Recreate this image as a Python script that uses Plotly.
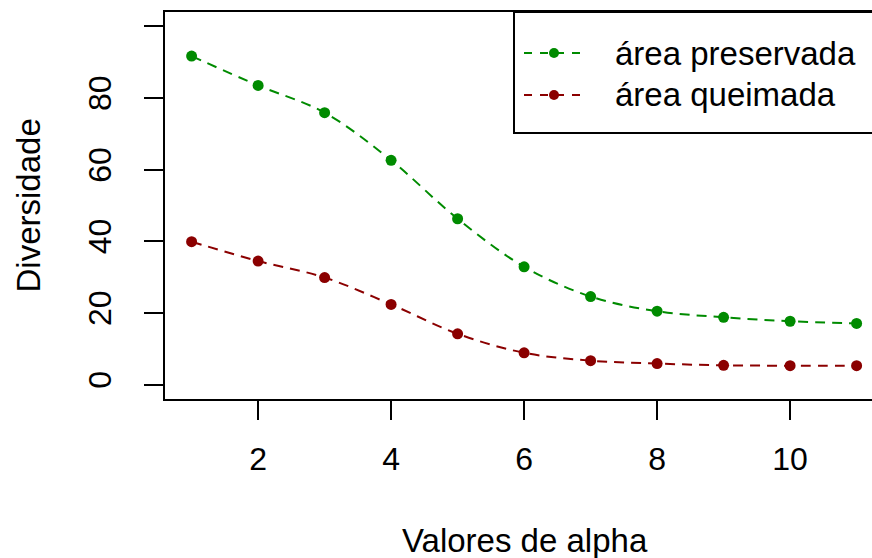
import plotly.graph_objects as go

# Valores de alpha (ordem da diversidade de Hill)
alpha = [1, 2, 3, 4, 5, 6, 7, 8, 9, 10, 11]

# Diversidade estimada em cada área
preservada = [91.7, 83.5, 75.9, 62.6, 46.3, 32.9, 24.6, 20.5, 18.8, 17.7, 17.1]
queimada = [39.9, 34.5, 29.9, 22.4, 14.2, 8.9, 6.7, 5.9, 5.4, 5.3, 5.3]

series_names = ["área preservada", "área queimada"]
series_colors = ["#008B00", "#8B0000"]

x_ticks = [2, 4, 6, 8, 10]
y_ticks = [0, 20, 40, 60, 80, 100]
y_tick_text = ["0", "20", "40", "60", "80", ""]

FONT = "Liberation Sans, Arial, sans-serif"
FS = 33
FS_TICK = 32

fig = go.Figure()

for vals, name, col in zip([preservada, queimada], series_names, series_colors):
    fig.add_trace(go.Scatter(
        x=alpha, y=vals, name=name, mode="lines+markers",
        line=dict(color=col, width=2, dash="10px,7px", shape="spline", smoothing=1),
        marker=dict(color=col, size=11, line=dict(width=0)),
        showlegend=False,
    ))

# plot region in pixels
L, T, B, W, H = 165, 12, 399, 872, 558
PW, PH = W - L, B - T


def px(xp):
    return (xp - L) / PW


def py(yp):
    return (B - yp) / PH


shapes = []
annotations = []

# legend box (open to the right, like the plot frame)
shapes.append(dict(type="rect", xref="paper", yref="paper",
                   x0=px(514), x1=px(900), y0=py(133), y1=py(T),
                   line=dict(color="black", width=2), fillcolor="white", layer="below"))

for i, (name, col) in enumerate(zip(series_names, series_colors)):
    yrow = 53 + i * 42
    shapes.append(dict(type="line", xref="paper", yref="paper",
                       x0=px(524), x1=px(585), y0=py(yrow), y1=py(yrow),
                       line=dict(color=col, width=2, dash="8px,8px")))
    shapes.append(dict(type="circle", xref="paper", yref="paper",
                       xsizemode="pixel", ysizemode="pixel",
                       xanchor=px(554), yanchor=py(yrow),
                       x0=-5, x1=5, y0=-5, y1=5,
                       fillcolor=col, line=dict(width=0)))
    annotations.append(dict(xref="paper", yref="paper", x=px(613), y=py(yrow),
                            xanchor="left", yanchor="middle", showarrow=False,
                            text=name, font=dict(family=FONT, size=FS, color="black")))

# axis titles
annotations.append(dict(xref="paper", yref="paper", x=px(524.5), y=py(540),
                        xanchor="center", yanchor="middle", showarrow=False,
                        text="Valores de alpha",
                        font=dict(family=FONT, size=FS, color="black")))
annotations.append(dict(xref="paper", yref="paper", x=px(28), y=py(205.5),
                        xanchor="center", yanchor="middle", showarrow=False,
                        textangle=-90, text="Diversidade",
                        font=dict(family=FONT, size=FS, color="black")))

fig.update_layout(
    width=W, height=H,
    margin=dict(l=L, r=0, t=T, b=H - B, pad=0),
    paper_bgcolor="white", plot_bgcolor="white",
    font=dict(family=FONT, size=FS, color="black"),
    shapes=shapes, annotations=annotations,
    xaxis=dict(range=[0.6, 0.6 + PW / 66.5], tickvals=x_ticks,
               ticktext=[str(v) for v in x_ticks],
               showgrid=False, zeroline=False,
               showline=True, linecolor="black", linewidth=2, mirror=True,
               ticks="outside", ticklen=19, tickwidth=2, tickcolor="black",
               ticklabelstandoff=12,
               tickfont=dict(family=FONT, size=FS_TICK, color="black")),
    yaxis=dict(range=[-4, 104], tickvals=y_ticks, ticktext=y_tick_text,
               showgrid=False, zeroline=False,
               showline=True, linecolor="black", linewidth=2, mirror=False,
               ticks="outside", ticklen=19, tickwidth=2, tickcolor="black",
               tickangle=-90, ticklabelstandoff=20,
               tickfont=dict(family=FONT, size=FS_TICK, color="black")),
)

fig.write_html("out.html")
